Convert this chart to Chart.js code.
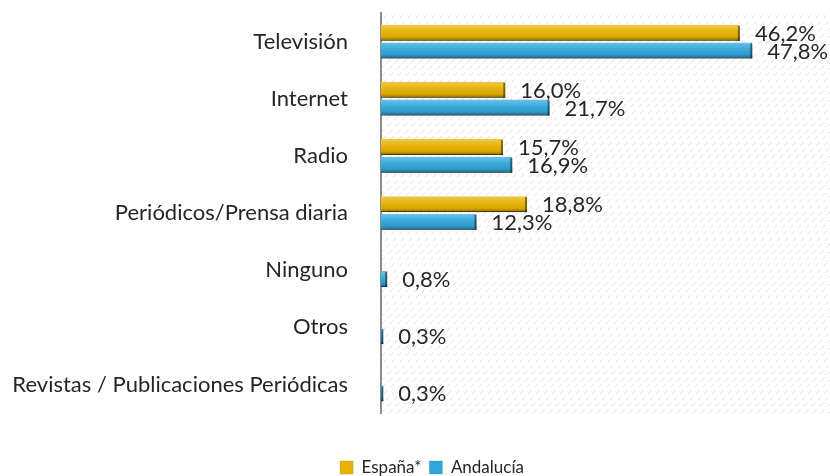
<!DOCTYPE html>
<html>
<head>
<meta charset="utf-8">
<script src="https://cdn.jsdelivr.net/npm/chart.js@4.4.1/dist/chart.umd.min.js"></script>
<style>
  html, body { margin: 0; padding: 0; background: #fff; }
  #wrap { width: 830px; height: 476px; }
</style>
</head>
<body>
<div id="wrap"><canvas id="chart"></canvas></div>
<script>
/* ── Data ── */
const categories = [
  "Televisión",
  "Internet",
  "Radio",
  "Periódicos/Prensa diaria",
  "Ninguno",
  "Otros",
  "Revistas / Publicaciones Periódicas",
];
const espana    = [46.2, 16.0, 15.7, 18.8, null, null, null];
const andalucia = [47.8, 21.7, 16.9, 12.3, 0.8, 0.3, 0.3];
const seriesNames = ["España*", "Andalucía"];

const FONT = "Lato, 'Open Sans', sans-serif";

/* ── Plot background: faint diagonal hatch ── */
const hatchPlugin = {
  id: "hatch",
  beforeDatasetsDraw(chart) {
    const { ctx, chartArea: a } = chart;
    ctx.save();
    ctx.beginPath();
    ctx.rect(a.left, a.top, a.right - a.left, a.bottom - a.top);
    ctx.clip();
    ctx.strokeStyle = "rgba(185,185,185,0.45)";
    ctx.lineWidth = 1;
    ctx.setLineDash([5, 4]);
    const h = a.bottom - a.top;
    for (let x = a.left - h; x < a.right + h; x += 8) {
      ctx.beginPath();
      ctx.moveTo(x, a.bottom);
      ctx.lineTo(x + h, a.top);
      ctx.stroke();
    }
    ctx.restore();
  },
};

/* ── Soft drop shadow under the bars ── */
const shadowPlugin = {
  id: "barShadow",
  beforeDatasetsDraw(chart) {
    const ctx = chart.ctx;
    ctx.save();
    ctx.shadowColor = "rgba(0,0,0,0.28)";
    ctx.shadowBlur = 5;
    ctx.shadowOffsetX = 3;
    ctx.shadowOffsetY = 4;
  },
  afterDatasetsDraw(chart) {
    chart.ctx.restore();
  },
};

/* ── Bar shading + value labels ── */
const barStylePlugin = {
  id: "barStyle",
  afterDatasetsDraw(chart) {
    const ctx = chart.ctx;
    chart.data.datasets.forEach((ds, di) => {
      const meta = chart.getDatasetMeta(di);
      meta.data.forEach((el, i) => {
        const v = ds.data[i];
        if (v === null || v === undefined) return;
        const top = el.y - el.height / 2;
        const g = ctx.createLinearGradient(0, top, 0, top + el.height);
        g.addColorStop(0,    "rgba(255,255,255,0.30)");
        g.addColorStop(0.35, "rgba(255,255,255,0.08)");
        g.addColorStop(0.75, "rgba(0,0,0,0.05)");
        g.addColorStop(1,    "rgba(0,0,0,0.40)");
        ctx.save();
        ctx.fillStyle = g;
        ctx.fillRect(el.base, top, el.x - el.base, el.height);
        // dark bevelled end
        ctx.fillStyle = "rgba(0,0,0,0.45)";
        ctx.fillRect(el.x - 2, top + 1, 2, el.height - 1);
        ctx.restore();

        ctx.save();
        ctx.font = "22px " + FONT;
        ctx.fillStyle = "#262626";
        ctx.textAlign = "left";
        ctx.textBaseline = "middle";
        ctx.fillText(v.toFixed(1).replace(".", ",") + "%", el.x + 15, el.y + 1);
        ctx.restore();
      });
    });
  },
};

new Chart(document.getElementById("chart"), {
  type: "bar",
  data: {
    labels: categories,
    datasets: [
      {
        label: seriesNames[0],
        data: espana,
        backgroundColor: "#E8B200",
        borderColor: "#8F7300",
        borderWidth: { bottom: 1, top: 0, left: 0, right: 0 },
        categoryPercentage: 0.62,
        barPercentage: 0.9,
      },
      {
        label: seriesNames[1],
        data: andalucia,
        backgroundColor: "#30A7DA",
        borderColor: "#17688A",
        borderWidth: { bottom: 1, top: 0, left: 0, right: 0 },
        categoryPercentage: 0.62,
        barPercentage: 0.9,
      },
    ],
  },
  options: {
    indexAxis: "y",
    responsive: true,
    maintainAspectRatio: false,
    animation: false,
    layout: { padding: { top: 13, left: 0, right: -34, bottom: -10 } },
    plugins: {
      tooltip: { enabled: false },
      legend: {
        position: "bottom",
        labels: {
          color: "#262626",
          font: { family: FONT, size: 17 },
          boxWidth: 13,
          boxHeight: 13,
          padding: 8,
        },
      },
    },
    scales: {
      x: {
        min: 0,
        max: 57.8,
        grid: { display: false },
        border: { display: false },
        ticks: { display: false },
        afterFit(scale) { scale.height = 38; },
      },
      y: {
        grid: { display: false, drawTicks: false },
        border: { display: true, color: "#8c8c8c", width: 2 },
        ticks: {
          color: "#262626",
          font: { family: FONT, size: 22 },
          padding: 33,
        },
        afterFit(scale) {
          scale.width = 381;
          scale.paddingTop = 0;
          scale.paddingBottom = 0;
        },
      },
    },
  },
  plugins: [hatchPlugin, shadowPlugin, barStylePlugin],
});
</script>
</body>
</html>
